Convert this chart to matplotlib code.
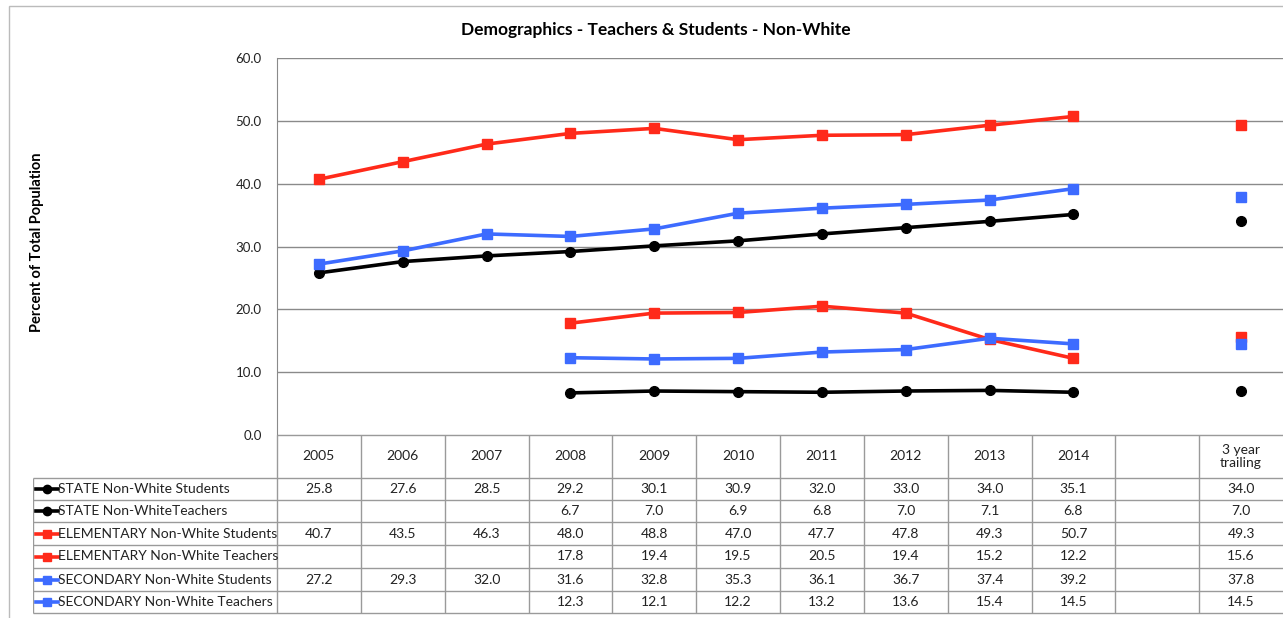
import numpy as np
import matplotlib
matplotlib.use("Agg")
import matplotlib.pyplot as plt
from matplotlib.patches import Rectangle

plt.rcParams['font.family'] = ['Lato', 'DejaVu Sans']

nan = np.nan
columns = ["2005", "2006", "2007", "2008", "2009", "2010", "2011", "2012",
           "2013", "2014", "", "3 year\ntrailing"]

state_students = [25.8, 27.6, 28.5, 29.2, 30.1, 30.9, 32.0, 33.0, 34.0, 35.1, nan, 34.0]
state_teachers = [nan, nan, nan, 6.7, 7.0, 6.9, 6.8, 7.0, 7.1, 6.8, nan, 7.0]
elem_students = [40.7, 43.5, 46.3, 48.0, 48.8, 47.0, 47.7, 47.8, 49.3, 50.7, nan, 49.3]
elem_teachers = [nan, nan, nan, 17.8, 19.4, 19.5, 20.5, 19.4, 15.2, 12.2, nan, 15.6]
sec_students = [27.2, 29.3, 32.0, 31.6, 32.8, 35.3, 36.1, 36.7, 37.4, 39.2, nan, 37.8]
sec_teachers = [nan, nan, nan, 12.3, 12.1, 12.2, 13.2, 13.6, 15.4, 14.5, nan, 14.5]

series_names = ["STATE Non-White Students", "STATE Non-WhiteTeachers",
                "ELEMENTARY Non-White Students", "ELEMENTARY Non-White Teachers",
                "SECONDARY Non-White Students", "SECONDARY Non-White Teachers"]
series_values = [state_students, state_teachers, elem_students, elem_teachers,
                 sec_students, sec_teachers]

BLACK = "#000000"
RED = "#ff2a1a"
BLUE = "#3d6bff"
colors = [BLACK, BLACK, RED, RED, BLUE, BLUE]
markers = ["o", "o", "s", "s", "s", "s"]

W, H = 1283, 618
fig = plt.figure(figsize=(W / 100, H / 100), dpi=100)

def px_axes(x0, y0, x1, y1):
    # pixel box (top-left origin) -> figure axes
    return fig.add_axes([x0 / W, 1 - y1 / H, (x1 - x0) / W, (y1 - y0) / H])

# outer chart frame
fig.patches.append(Rectangle((9 / W, -0.01), 1.0, 1 - 6 / H + 0.01,
                             transform=fig.transFigure, fill=False,
                             edgecolor="#bbbbbb", linewidth=1))

plot_left, plot_right, plot_top, plot_bottom = 277, 1283, 58, 435
ax = px_axes(plot_left, plot_top, plot_right, plot_bottom)
x = np.arange(len(columns))
for vals, c, m in zip(series_values, colors, markers):
    ax.plot(x, vals, color=c, marker=m, markersize=7, linewidth=2.6, zorder=3)

ax.set_xlim(-0.5, len(columns) - 0.5)
ax.set_ylim(0, 60)
ax.set_yticks(np.arange(0, 61, 10))
ax.set_yticklabels([f"{v:.1f}" for v in np.arange(0, 61, 10)], fontsize=9.5, color="#222222")
ax.tick_params(axis='y', length=0, pad=11)
ax.set_xticks([])
ax.grid(axis='y', color="#8a8a8a", linewidth=1)
for s in ["top", "right", "bottom"]:
    ax.spines[s].set_visible(False)
ax.spines["left"].set_color("#8a8a8a")

fig.text(656 / W, 1 - 30 / H,
         "Demographics - Teachers & Students - Non-White",
         ha="center", va="center", fontsize=12.5, fontweight="bold")
fig.text(37 / W, 1 - 242 / H, "Percent of Total Population", rotation=90,
         ha="center", va="center", fontsize=10.5, fontweight="bold")

# data table below the plot, sharing the column scale of the plot
col_w = (plot_right - plot_left) / len(columns)
tab_left = 33
tax = px_axes(tab_left, 435, plot_right, 618)
tax.set_xlim(-0.5 - (plot_left - tab_left) / col_w, len(columns) - 0.5)
tax.set_ylim(618, 435)
tax.axis("off")

row_edges = [435, 478, 500, 522, 545, 568, 591, 613]
grid_c = "#9a9a9a"
lbl_edge = -0.5 - (plot_left - tab_left) / col_w
tax.hlines(row_edges[0], -0.5, len(columns) - 0.5, color=grid_c, lw=1)
tax.hlines(row_edges[1:], lbl_edge, len(columns) - 0.5, color=grid_c, lw=1)
for i in range(len(columns)):
    tax.vlines(i - 0.5, row_edges[0], row_edges[-1], color=grid_c, lw=1)
tax.vlines(lbl_edge, row_edges[1], row_edges[-1], color=grid_c, lw=1)

for i, lab in enumerate(columns):
    tax.text(i, (row_edges[0] + row_edges[1]) / 2, lab, ha="center", va="center",
             fontsize=10, color="#222222", linespacing=1.1)

for r, (name, vals, c, m) in enumerate(zip(series_names, series_values, colors, markers)):
    yc = (row_edges[r + 1] + row_edges[r + 2]) / 2
    x0 = lbl_edge + 3 / col_w
    x1 = lbl_edge + 25 / col_w
    tax.plot([x0, x1], [yc, yc], color=c, lw=2.6)
    tax.plot([(x0 + x1) / 2], [yc], color=c, marker=m, markersize=6)
    tax.text(lbl_edge + 25 / col_w, yc, name, ha="left", va="center",
             fontsize=10, color="#222222")
    for i, v in enumerate(vals):
        if not np.isnan(v):
            tax.text(i, yc, f"{v:.1f}", ha="center", va="center",
                     fontsize=10, color="#222222")

fig.savefig("out.png", dpi=100)
